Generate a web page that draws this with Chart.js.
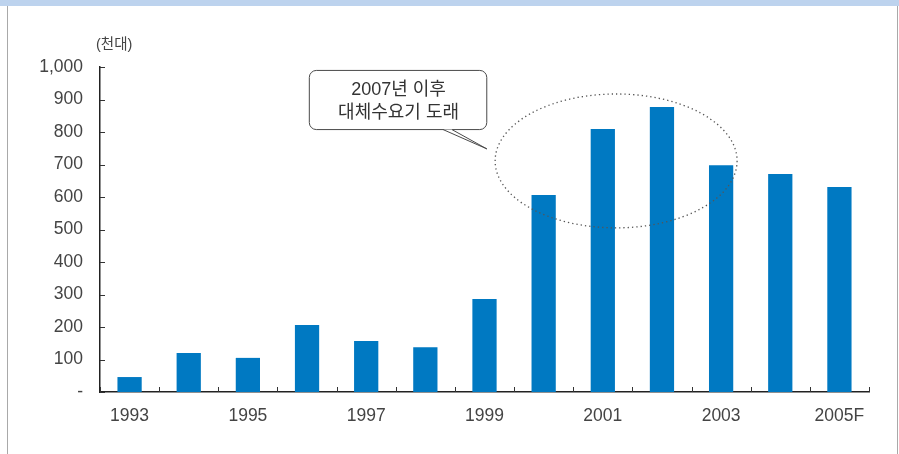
<!DOCTYPE html>
<html lang="ko">
<head>
<meta charset="utf-8">
<title>대체수요 추이</title>
<script src="https://cdn.jsdelivr.net/npm/chart.js@4/dist/chart.umd.min.js"></script>
<style>
    html, body { margin: 0; padding: 0; background: #fff; }
    #wrap { width: 899px; height: 454px; position: relative; }
</style>
</head>
<body>
<div id="wrap"><canvas id="demandChart" width="899" height="454"></canvas></div>
<script>
/* ==========================================
   Demand (thousand units), 1993 - 2005F
========================================== */

const years = ["1993", "1994", "1995", "1996", "1997", "1998", "1999",
               "2000", "2001", "2002", "2003", "2004", "2005F"];

const demand = [46, 120, 105, 206, 157, 138, 286, 606, 809, 877, 698, 671, 631];

const yTicks = [0, 100, 200, 300, 400, 500, 600, 700, 800, 900, 1000];

const unitLabel = "(천대)";
const calloutLines = ["2007년 이후", "대체수요기 도래"];

const FONT = "'Liberation Sans', 'Noto Sans CJK KR', sans-serif";
const TEXT = "#444";
const BAR = "#0079c2";

// ellipse and callout, in category index / value units
const ellipseBox = { left: 6.18, right: 10.27, top: 917, bottom: 505 };
const calloutBox = { left: 3.03, right: 6.03, top: 991, bottom: 809 };
const calloutTail = { base1: 5.30, base2: 5.45, tipX: 6.04, tipY: 748 };

const frame = {
    id: "frame",
    beforeDraw(chart) {
        const c = chart.ctx;
        c.save();
        c.fillStyle = "#fff";
        c.fillRect(0, 0, chart.width, chart.height);
        c.fillStyle = "#bdd3ee";
        c.fillRect(0, 0, chart.width, 6);
        c.strokeStyle = "#a9a9a9";
        c.lineWidth = 1;
        c.beginPath();
        c.moveTo(7.5, 6); c.lineTo(7.5, chart.height);
        c.moveTo(897.5, 6); c.lineTo(897.5, chart.height);
        c.stroke();
        c.restore();
    }
};

// short inward tick marks on both axes
const innerTicks = {
    id: "innerTicks",
    afterDatasetsDraw(chart) {
        const c = chart.ctx;
        const x = chart.scales.x, y = chart.scales.y;
        const area = chart.chartArea;
        c.save();
        c.strokeStyle = "#333";
        c.lineWidth = 1;
        c.beginPath();
        yTicks.forEach(v => {
            const py = Math.round(y.getPixelForValue(v)) + 0.5;
            c.moveTo(area.left, py);
            c.lineTo(area.left + 5, py);
        });
        for (let i = 0; i <= years.length; i++) {
            const px = Math.round(x.getPixelForValue(i - 0.5)) + 0.5;
            c.moveTo(px, area.bottom);
            c.lineTo(px, area.bottom - 5);
        }
        c.stroke();

        c.fillStyle = TEXT;
        c.font = "14.5px " + FONT;
        c.textAlign = "left";
        c.textBaseline = "middle";
        c.fillText(unitLabel, area.left - 4, 45);
        c.restore();
    }
};

const annotations = {
    id: "annotations",
    afterDatasetsDraw(chart) {
        const c = chart.ctx;
        const x = chart.scales.x, y = chart.scales.y;

        // dotted ellipse round the peak years
        const l = x.getPixelForValue(ellipseBox.left), r = x.getPixelForValue(ellipseBox.right);
        const t = y.getPixelForValue(ellipseBox.top), b = y.getPixelForValue(ellipseBox.bottom);
        c.save();
        c.strokeStyle = "#555";
        c.lineWidth = 1.3;
        c.setLineDash([1.3, 3]);
        c.beginPath();
        c.ellipse((l + r) / 2, (t + b) / 2, (r - l) / 2, (b - t) / 2, 0, 0, Math.PI * 2);
        c.stroke();
        c.restore();

        // speech bubble
        const bl = x.getPixelForValue(calloutBox.left), br = x.getPixelForValue(calloutBox.right);
        const bt = y.getPixelForValue(calloutBox.top), bb = y.getPixelForValue(calloutBox.bottom);
        const t1 = x.getPixelForValue(calloutTail.base1), t2 = x.getPixelForValue(calloutTail.base2);
        const tx = x.getPixelForValue(calloutTail.tipX), ty = y.getPixelForValue(calloutTail.tipY);
        c.save();
        c.fillStyle = "#fff";
        c.strokeStyle = "#4a4a4a";
        c.lineWidth = 1;
        c.beginPath();
        c.roundRect(bl + 0.5, bt + 0.5, br - bl, bb - bt, 7);
        c.fill();
        c.stroke();

        c.beginPath();
        c.moveTo(t1, bb + 0.5);
        c.lineTo(tx, ty);
        c.lineTo(t2, bb + 0.5);
        c.closePath();
        c.fill();
        c.beginPath();
        c.moveTo(t1, bb + 0.5);
        c.lineTo(tx, ty);
        c.lineTo(t2, bb + 0.5);
        c.stroke();

        c.fillStyle = "#333";
        c.font = "18px " + FONT;
        c.textAlign = "center";
        c.textBaseline = "middle";
        const cx = (bl + br) / 2 + 1;
        c.fillText(calloutLines[0], cx, bt + 20);
        c.fillText(calloutLines[1], cx, bt + 43);
        c.restore();
    }
};

const ctx = document.getElementById("demandChart").getContext("2d");

new Chart(ctx, {

    type: "bar",

    data: {
        labels: years,
        datasets: [{
            data: demand,
            backgroundColor: BAR,
            borderWidth: 0,
            categoryPercentage: 1,
            barPercentage: 0.41
        }]
    },

    options: {
        responsive: false,
        animation: false,
        devicePixelRatio: 1,
        layout: {
            padding: { left: 0, top: 67, right: 30, bottom: 0 }
        },
        plugins: {
            legend: { display: false },
            tooltip: { enabled: false }
        },
        scales: {
            x: {
                grid: { display: false, drawTicks: false },
                border: { display: true, color: "#222", width: 1.5 },
                afterFit(scale) { scale.height = 62; },
                ticks: {
                    autoSkip: false,
                    maxRotation: 0,
                    padding: 14,
                    color: TEXT,
                    font: { family: FONT, size: 17.5 },
                    callback(value, index) {
                        return index % 2 === 0 ? years[index] : "";
                    }
                }
            },
            y: {
                min: 0,
                max: 1000,
                grid: { display: false, drawTicks: false },
                border: { display: true, color: "#222", width: 1.5 },
                afterFit(scale) { scale.width = 100; },
                afterBuildTicks(scale) {
                    scale.ticks = yTicks.map(v => ({ value: v }));
                },
                ticks: {
                    padding: 17,
                    color: TEXT,
                    font: { family: FONT, size: 17.5 },
                    callback(value) {
                        return value === 0 ? "-" : value.toLocaleString("en-US");
                    }
                }
            }
        }
    },

    plugins: [frame, innerTicks, annotations]

});
</script>
</body>
</html>
